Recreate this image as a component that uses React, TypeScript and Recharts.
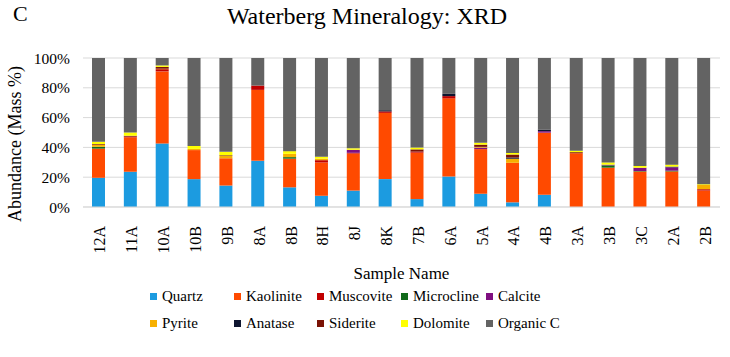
import React from 'react';
import { BarChart, Bar, XAxis, YAxis, CartesianGrid } from 'recharts';

const samples = ['12A', '11A', '10A', '10B', '9B', '8A', '8B', '8H', '8J', '8K', '7B', '6A', '5A', '4A', '4B', '3A', '3B', '3C', '2A', '2B'];

// mass %, bottom of the stack first
const quartz = [19.5, 23.7, 42.7, 18.7, 14.4, 31, 13.1, 7.5, 10.9, 18.7, 5.3, 20.4, 8.9, 3.1, 8.2, 0, 0, 0, 0, 0];
const kaolinite = [19.5, 23, 48.4, 19.5, 18.3, 47.6, 19.1, 22.3, 24.6, 44.4, 31.1, 52.3, 30, 26.2, 41.6, 36, 26.4, 23.7, 23.7, 11.1];
const muscovite = [0, 0.5, 1.5, 0, 0, 2.9, 0, 1.5, 0.5, 1, 0.7, 1.5, 0, 0, 0, 0, 0, 0, 0, 0.9];
const microcline = [1.2, 0, 0, 0, 0, 0, 1, 0, 0, 0, 0, 0, 0, 0, 0, 0, 1.5, 0.3, 0.5, 0];
const calcite = [0, 0, 0, 0, 0, 0, 0, 0, 2, 0, 0, 0, 1, 0, 1, 0, 0.5, 2.2, 2.2, 0];
const pyrite = [1.3, 0, 0.3, 0.8, 1.5, 0, 2.2, 1, 0, 0, 0, 0, 0.5, 2.7, 0, 0, 0, 0, 0, 2.9];
const anatase = [0, 0, 0, 0, 0, 0, 0, 0, 0, 0.8, 0, 1.5, 0, 0.8, 1, 0, 0, 0, 0.5, 0];
const siderite = [0.5, 0.5, 1.2, 0, 0.5, 0, 0, 0, 0, 0, 1.5, 0, 1.5, 2, 0, 0.7, 0, 0, 0, 0];
const dolomite = [1.5, 2.2, 1, 2, 2.3, 0, 1.8, 1.3, 1, 0, 1.2, 0, 1.2, 1, 0, 1, 1.5, 1.2, 1.3, 0.5];
const organicC = [56, 50, 5, 59, 63, 18.5, 62, 66, 60, 35, 60, 24, 57, 63, 48, 62, 70, 72, 71, 85];

const yTicks = [0, 0.2, 0.4, 0.6, 0.8, 1];

const series = [
  { key: 'Quartz', values: quartz, color: '#1c9be0' },
  { key: 'Kaolinite', values: kaolinite, color: '#ff4a00' },
  { key: 'Muscovite', values: muscovite, color: '#c00000' },
  { key: 'Microcline', values: microcline, color: '#116a1a' },
  { key: 'Calcite', values: calcite, color: '#7f0f80' },
  { key: 'Pyrite', values: pyrite, color: '#f7b000' },
  { key: 'Anatase', values: anatase, color: '#0e1630' },
  { key: 'Siderite', values: siderite, color: '#7a1205' },
  { key: 'Dolomite', values: dolomite, color: '#ffff00' },
  { key: 'Organic C', values: organicC, color: '#636363' },
];

const data = samples.map((name, i) => {
  const row: any = { name };
  series.forEach((s) => {
    row[s.key] = s.values[i];
  });
  return row;
});

const FONT = '"Liberation Serif", "Times New Roman", serif';

const SampleTick = ({ x, y, payload }: any) => (
  <text
    transform={`translate(${x + 1},${y + 11}) rotate(-90)`}
    textAnchor="end"
    dominantBaseline="central"
    style={{ fontSize: 16, fontFamily: FONT }}
    fill="#000"
  >
    {payload.value}
  </text>
);

const PctTick = ({ x, y, payload }: any) => (
  <text
    x={x - 5}
    y={y}
    textAnchor="end"
    dominantBaseline="central"
    style={{ fontSize: 15.5, fontFamily: FONT }}
    fill="#000"
  >
    {`${Math.round(payload.value * 100)}%`}
  </text>
);

const XTitle = ({ viewBox }: any) => (
  <text
    x={viewBox.x + viewBox.width / 2}
    y={273}
    textAnchor="middle"
    dominantBaseline="central"
    style={{ fontSize: 17, fontFamily: FONT }}
    fill="#000"
  >
    Sample Name
  </text>
);

const legendCols = [150, 234, 317, 401, 486];
const legendRows = [296, 323];

export default function App() {
  return (
    <div style={{ position: 'absolute', left: 0, top: 0, width: 730, height: 357, background: '#fff', fontFamily: FONT }}>
      <div style={{ position: 'absolute', left: 13, top: 1, fontSize: 22, fontFamily: FONT }}>C</div>
      <div style={{ position: 'absolute', left: 0, width: 730, top: 3, textAlign: 'center', fontSize: 24, paddingLeft: 2, fontFamily: FONT }}>
        Waterberg Mineralogy: XRD
      </div>
      <div
        style={{
          position: 'absolute',
          left: 15,
          top: 144,
          transform: 'translate(-50%, -50%) rotate(-90deg)',
          whiteSpace: 'nowrap',
          fontSize: 18,
          fontFamily: FONT,
        }}
      >
        Abundance (Mass %)
      </div>
      <BarChart
        width={730}
        height={357}
        data={data}
        stackOffset="expand"
        barSize={13}
        margin={{ top: 58, right: 10, left: 8, bottom: 0 }}
      >
        <CartesianGrid vertical={false} stroke="#d9d9d9" />
        <XAxis
          dataKey="name"
          interval={0}
          height={150}
          tick={<SampleTick />}
          tickLine={false}
          axisLine={{ stroke: '#d9d9d9' }}
          label={<XTitle />}
        />
        <YAxis
          width={75}
          domain={[0, 1]}
          ticks={yTicks}
          tick={<PctTick />}
          tickLine={false}
          axisLine={false}
        />
        {series.map((s) => (
          <Bar key={s.key} dataKey={s.key} stackId="a" fill={s.color} isAnimationActive={false} />
        ))}
      </BarChart>
      {series.map((s, i) => (
        <div
          key={s.key}
          style={{
            position: 'absolute',
            left: legendCols[i % 5],
            top: legendRows[Math.floor(i / 5)] - 9,
            height: 18,
            display: 'flex',
            alignItems: 'center',
            fontSize: 15,
            fontFamily: FONT,
            whiteSpace: 'nowrap',
          }}
        >
          <span style={{ display: 'inline-block', width: 7, height: 7, background: s.color, marginRight: 5 }} />
          {s.key}
        </div>
      ))}
    </div>
  );
}
